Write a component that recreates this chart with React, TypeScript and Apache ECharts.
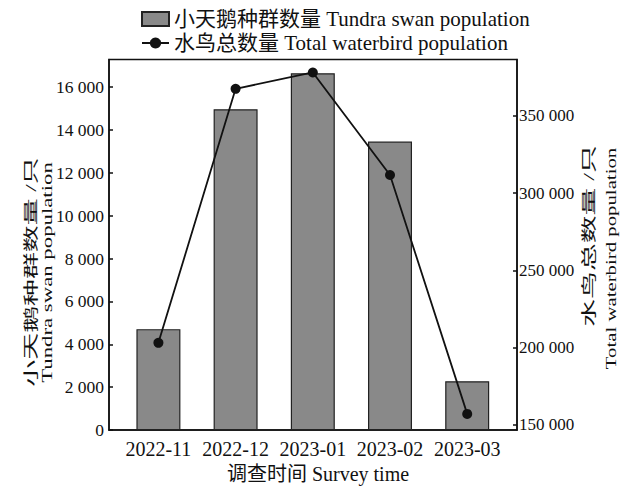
import React, { useEffect, useRef } from "react";
import * as echarts from "echarts";

const categories = ["2022-11", "2022-12", "2023-01", "2023-02", "2023-03"];
const swanValues = [4710, 14970, 16650, 13460, 2280];
const waterbirdValues = [203000, 367500, 378100, 311700, 157000];
const leftTicks = [0, 2000, 4000, 6000, 8000, 10000, 12000, 14000, 16000];
const rightTicks = [150000, 200000, 250000, 300000, 350000];
const categoryIndex = [0, 1, 2, 3, 4];

const swanName = "小天鹅种群数量 Tundra swan population";
const birdName = "水鸟总数量 Total waterbird population";

const FONT = "'Liberation Serif', 'Noto Sans CJK SC', serif";

const fmt = (v: number) => String(v).replace(/\B(?=(\d{3})+(?!\d))/g, " ");

export default function App() {
  const ref = useRef<HTMLDivElement>(null);
  useEffect(() => {
    document.body.style.margin = "0";
    if (!ref.current) return;
    const chart = echarts.init(ref.current, undefined, { renderer: "svg" });
    const vText = (
      text: string,
      x: number,
      y: number,
      sx: number,
      sy: number
    ) => ({
      type: "text",
      x,
      y,
      rotation: Math.PI / 2,
      scaleX: sx,
      scaleY: sy,
      style: {
        text,
        font: `20px ${FONT}`,
        fill: "#111",
        align: "center",
        verticalAlign: "middle",
      },
    });
    chart.setOption({
      animation: false,
      backgroundColor: "#fff",
      textStyle: { fontFamily: FONT, color: "#111" },
      grid: {
        left: 109,
        right: 116,
        top: 59.5,
        bottom: 53.5,
        show: true,
        borderColor: "#111",
        borderWidth: 1.5,
        containLabel: false,
      },
      legend: {
        orient: "vertical",
        left: 136,
        top: 3,
        itemWidth: 27,
        itemHeight: 14,
        itemGap: 2,
        textStyle: { fontSize: 21, lineHeight: 22, color: "#111", fontFamily: FONT },
        data: [{ name: swanName, icon: "rect" }, { name: birdName }],
      },
      xAxis: {
        type: "value",
        min: -0.64,
        max: 4.645,
        splitLine: { show: false },
        axisLine: { show: true, onZero: false, lineStyle: { color: "#111", width: 1.5 } },
        axisTick: { show: false },
        axisLabel: {
          customValues: categoryIndex,
          formatter: (v: number) => categories[Math.round(v)] ?? "",
          fontSize: 20,
          lineHeight: 20,
          margin: 9,
          color: "#111",
          fontFamily: FONT,
        },
        name: "调查时间 Survey time",
        nameLocation: "middle",
        nameGap: 33,
        nameTextStyle: {
          fontSize: 20,
          lineHeight: 20,
          color: "#111",
          fontFamily: FONT,
          padding: [0, 0, 0, 10],
        },
      },
      yAxis: [
        {
          type: "value",
          min: 0,
          max: 17290,
          position: "left",
          splitLine: { show: false },
          axisLine: { show: true, onZero: false, lineStyle: { color: "#111", width: 1.5 } },
          axisTick: {
            show: true,
            inside: true,
            length: 4,
            customValues: leftTicks,
            lineStyle: { color: "#111", width: 1.5 },
          },
          axisLabel: {
            customValues: leftTicks,
            formatter: (v: number) => fmt(v),
            fontSize: 17.5,
            margin: 5,
            color: "#111",
            fontFamily: FONT,
          },
        },
        {
          type: "value",
          min: 146500,
          max: 386500,
          position: "right",
          splitLine: { show: false },
          axisLine: { show: true, onZero: false, lineStyle: { color: "#111", width: 1.5 } },
          axisTick: {
            show: true,
            inside: true,
            length: 4,
            customValues: rightTicks,
            lineStyle: { color: "#111", width: 1.5 },
          },
          axisLabel: {
            customValues: rightTicks,
            formatter: (v: number) => fmt(v),
            fontSize: 17,
            margin: 2,
            color: "#111",
            fontFamily: FONT,
          },
        },
      ],
      series: [
        {
          name: swanName,
          type: "bar",
          barWidth: 44,
          yAxisIndex: 0,
          itemStyle: { color: "#898989", borderColor: "#222", borderWidth: 1.2 },
          data: categoryIndex.map((i) => [i, swanValues[i]]),
        },
        {
          name: birdName,
          type: "line",
          yAxisIndex: 1,
          symbol: "circle",
          symbolSize: 10,
          lineStyle: { color: "#111", width: 1.8 },
          itemStyle: { color: "#111" },
          data: categoryIndex.map((i) => [i, waterbirdValues[i]]),
        },
      ],
      graphic: [
        vText("小天鹅种群数量 /只", 31.5, 272, 1.345, 0.72),
        vText("Tundra swan population", 47, 272.5, 1.14, 0.75),
        vText("水鸟总数量 /只", 589.5, 236, 1.39, 0.72),
        vText("Total waterbird population", 611.5, 258.5, 1.04, 0.75),
      ],
    });
    return () => chart.dispose();
  }, []);
  return <div ref={ref} style={{ width: 633, height: 489 }} />;
}
